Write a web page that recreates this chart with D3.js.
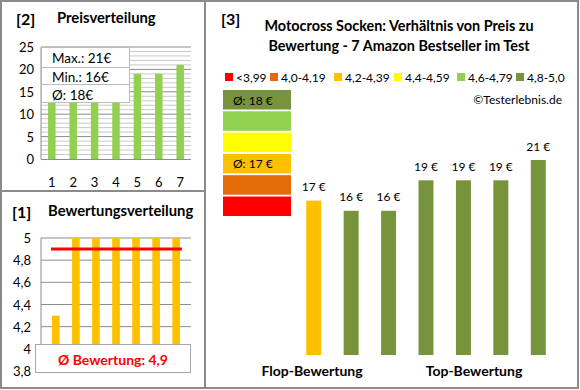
<!DOCTYPE html>
<html>
<head>
<meta charset="utf-8">
<script src="https://cdn.jsdelivr.net/npm/d3@7"></script>
<style>
body{margin:0;background:#fff;}
text{font-family:Lato,"Open Sans",sans-serif;}
</style>
</head>
<body>
<div id="chart"></div>
<script>
var w=580
var h=390

// [2] Preisverteilung
var priceIdx=[1,2,3,4,5,6,7]
var priceVals=[16,16,17,19,19,19,21]
var priceTicks=[0,5,10,15,20,25]
var priceBox=["Max.: 21€","Min.: 16€","Ø: 18€"]

// [1] Bewertungsverteilung
var rateIdx=[1,2,3,4,5,6,7]
var rateVals=[4.3,5,5,5,5,5,5]
var rateTicks=[3.8,4,4.2,4.4,4.6,4.8,5]
var rateAvg=4.9

// [3] Preis vs Bewertung
var prodIdx=[1,2,3,4,5,6,7]
var prodPrices=[17,16,16,19,19,19,21]
var prodColors=["#FFC000","#77933C","#77933C","#77933C","#77933C","#77933C","#77933C"]
var legendLabels=["<3,99","4,0-4,19","4,2-4,39","4,4-4,59","4,6-4,79","4,8-5,0"]
var legendColors=["#FF0000","#E36C09","#FFC000","#FFFF00","#92D050","#77933C"]
var blockColors=["#77933C","#92D050","#FFFF00","#FFC000","#E36C09","#FF0000"]
var blockTexts=["Ø: 18 €","","","Ø: 17 €","",""]

var svg=d3.select("#chart")
          .append("svg")
          .attr("width",w)
          .attr("height",h);

svg.append("rect").attr("width",w).attr("height",h).attr("fill","#fff");

//Panel borders
var frame=svg.append("g").attr("stroke","#8a8a8a").attr("stroke-width",2).attr("fill","none");
frame.append("rect").attr("x",1).attr("y",1).attr("width",577).attr("height",387);
frame.append("line").attr("x1",205).attr("x2",205).attr("y1",1).attr("y2",388);
frame.append("line").attr("x1",1).attr("x2",205).attr("y1",191).attr("y2",191);

//---------- Panel [2]
var p2=svg.append("g");
var x2=d3.scaleBand().domain(priceIdx).range([41,191]).paddingInner(0.65).paddingOuter(0.33);
var y2=d3.scaleLinear().domain([0,25]).range([159,47]);

p2.append("text").attr("x",16).attr("y",25).text("[2]")
  .attr("font-weight","bold").attr("font-size",16);
p2.append("text").attr("x",57).attr("y",23).text("Preisverteilung")
  .attr("font-weight","bold").attr("font-size",14.8);

p2.selectAll(".minor").data(d3.range(1,26)).enter().append("line")
  .attr("x1",41).attr("x2",191)
  .attr("y1",function(d){return y2(d);}).attr("y2",function(d){return y2(d);})
  .attr("stroke",function(d){return d%5==0?"#8c8c8c":"#c8c8c8";})
  .attr("stroke-width",1);

p2.selectAll(".bar").data(priceVals).enter().append("rect")
  .attr("x",function(d,i){return x2(priceIdx[i]);})
  .attr("width",x2.bandwidth())
  .attr("y",function(d){return y2(d);})
  .attr("height",function(d){return y2(0)-y2(d);})
  .attr("fill","#92D050");

p2.append("line").attr("x1",41).attr("x2",41).attr("y1",47).attr("y2",159).attr("stroke","#8c8c8c");
p2.append("line").attr("x1",41).attr("x2",191).attr("y1",159.5).attr("y2",159.5).attr("stroke","#8c8c8c");

p2.selectAll(".yt").data(priceTicks).enter().append("text")
  .attr("x",34).attr("y",function(d){return y2(d);})
  .attr("text-anchor","end").attr("dominant-baseline","central")
  .attr("font-size",13).attr("fill","#000").text(function(d){return d;});

p2.selectAll(".xt").data(priceIdx).enter().append("text")
  .attr("x",function(d){return x2(d)+x2.bandwidth()/2;}).attr("y",182)
  .attr("text-anchor","middle").attr("dominant-baseline","central")
  .attr("font-size",13).text(function(d){return d;});

//info box
var box=p2.append("g");
var rowY=[47,67,84,103];
box.append("rect").attr("x",41.5).attr("y",47.5).attr("width",88).attr("height",55)
   .attr("fill","#fff").attr("stroke","#bdbdbd");
box.selectAll(".sep").data([67,84]).enter().append("line")
   .attr("x1",41.5).attr("x2",129.5).attr("y1",function(d){return d+0.5;}).attr("y2",function(d){return d+0.5;})
   .attr("stroke","#bdbdbd");
box.selectAll(".bt").data(priceBox).enter().append("text")
   .attr("x",52).attr("y",function(d,i){return (rowY[i]+rowY[i+1])/2+1;})
   .attr("dominant-baseline","central").attr("font-size",13.5).text(function(d){return d;});

//---------- Panel [1]
var p1=svg.append("g");
var x1=d3.scaleBand().domain(rateIdx).range([41,191]).paddingInner(0.62).paddingOuter(0.55);
var y1=d3.scaleLinear().domain([3.8,5]).range([371,238]);
var fmt=function(d){return String(d).replace(".",",");};

p1.append("text").attr("x",12).attr("y",218).text("[1]")
  .attr("font-weight","bold").attr("font-size",16);
p1.append("text").attr("x",48).attr("y",216).text("Bewertungsverteilung")
  .attr("font-weight","bold").attr("font-size",14.8);

p1.selectAll(".grid").data(rateTicks.slice(1)).enter().append("line")
  .attr("x1",41).attr("x2",191)
  .attr("y1",function(d){return y1(d);}).attr("y2",function(d){return y1(d);})
  .attr("stroke","#8c8c8c");
p1.append("line").attr("x1",41).attr("x2",41).attr("y1",238).attr("y2",371).attr("stroke","#8c8c8c");

p1.selectAll(".bar").data(rateVals).enter().append("rect")
  .attr("x",function(d,i){return x1(rateIdx[i]);})
  .attr("width",x1.bandwidth())
  .attr("y",function(d){return y1(d);})
  .attr("height",function(d){return y1(4)-y1(d);})
  .attr("fill","#FFC000");

p1.append("line")
  .attr("x1",x1(1)-1).attr("x2",x1(7)+x1.bandwidth()+2)
  .attr("y1",y1(rateAvg)).attr("y2",y1(rateAvg))
  .attr("stroke","#FF0000").attr("stroke-width",3);

p1.selectAll(".yt").data(rateTicks).enter().append("text")
  .attr("x",31).attr("y",function(d){return y1(d);})
  .attr("text-anchor","end").attr("dominant-baseline","central")
  .attr("font-size",13).text(function(d){return fmt(d);});

p1.append("rect").attr("x",35.5).attr("y",344.5).attr("width",155).attr("height",28)
  .attr("fill","#fff").attr("stroke","#a6a6a6");
p1.append("text").attr("x",113).attr("y",359).attr("text-anchor","middle")
  .attr("dominant-baseline","central").attr("font-weight","bold").attr("font-size",14)
  .attr("fill","#FF0000").text("Ø Bewertung: "+fmt(rateAvg));

//---------- Panel [3]
var p3=svg.append("g");
p3.append("text").attr("x",221).attr("y",25).text("[3]")
  .attr("font-weight","bold").attr("font-size",16);
p3.append("text").attr("x",399).attr("y",31).attr("text-anchor","middle")
  .attr("font-weight","bold").attr("font-size",14.4).text("Motocross Socken: Verhältnis von Preis zu");
p3.append("text").attr("x",399).attr("y",51).attr("text-anchor","middle")
  .attr("font-weight","bold").attr("font-size",14.4).text("Bewertung - 7 Amazon Bestseller im Test");

//legend
var legX=[225,270,334,394,457,516];
var leg=p3.selectAll(".leg").data(legendLabels).enter().append("g")
  .attr("transform",function(d,i){return "translate("+legX[i]+",77)";});
leg.append("rect").attr("x",0).attr("y",-4).attr("width",8).attr("height",8)
   .attr("fill",function(d,i){return legendColors[i];});
leg.append("text").attr("x",11).attr("y",0).attr("dominant-baseline","central")
   .attr("font-size",12).text(function(d){return d;});

p3.append("text").attr("x",562).attr("y",99).attr("text-anchor","end")
  .attr("dominant-baseline","central").attr("font-size",12).text("©Testerlebnis.de");

//colour blocks
var blocks=p3.selectAll(".blk").data(blockColors).enter().append("g")
  .attr("transform",function(d,i){return "translate(223,"+(90+i*21.3)+")";});
blocks.append("rect").attr("width",68).attr("height",19.5)
  .attr("fill",function(d){return d;});
blocks.append("text").attr("x",10).attr("y",10).attr("dominant-baseline","central")
  .attr("font-size",12).text(function(d,i){return blockTexts[i];});

//bars
var x3=d3.scaleBand().domain(prodIdx).range([295,557]).paddingInner(0.6).paddingOuter(0.3);
var y3=d3.scaleLinear().domain([1.8,21]).range([355,160]);

p3.selectAll(".bar").data(prodPrices).enter().append("rect")
  .attr("x",function(d,i){return x3(prodIdx[i]);})
  .attr("width",x3.bandwidth())
  .attr("y",function(d){return y3(d);})
  .attr("height",function(d){return y3(1.8)-y3(d);})
  .attr("fill",function(d,i){return prodColors[i];});

p3.selectAll(".lbl").data(prodPrices).enter().append("text")
  .attr("x",function(d,i){return x3(prodIdx[i])+x3.bandwidth()/2;})
  .attr("y",function(d){return y3(d)-14;})
  .attr("text-anchor","middle").attr("dominant-baseline","central")
  .attr("font-size",12).text(function(d){return d+" €";});

p3.append("text").attr("x",312).attr("y",370).attr("text-anchor","middle")
  .attr("dominant-baseline","central").attr("font-weight","bold").attr("font-size",14)
  .text("Flop-Bewertung");
p3.append("text").attr("x",474).attr("y",370).attr("text-anchor","middle")
  .attr("dominant-baseline","central").attr("font-weight","bold").attr("font-size",14)
  .text("Top-Bewertung");
</script>
</body>
</html>
